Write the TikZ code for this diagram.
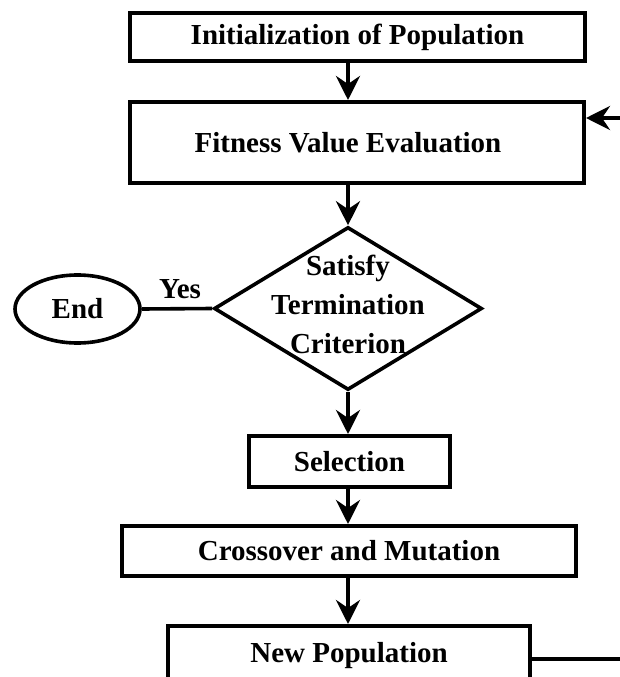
\documentclass[tikz,border=0pt]{standalone}
\usepackage{fontspec}
\setmainfont{Liberation Serif}
\usetikzlibrary{shapes.geometric,arrows.meta,calc}

\begin{document}
\begin{tikzpicture}[x=1pt,y=-1pt,
  every node/.style={font=\fontsize{29pt}{39pt}\selectfont\bfseries},
  procbox/.style={draw, rectangle, line width=4pt, inner sep=0pt, align=center},
  decbox/.style={draw, diamond, line width=3.6pt, inner sep=0pt},
  termbox/.style={draw, ellipse, line width=3.6pt, inner sep=0pt},
  arr/.style={line width=4pt, -{Stealth[length=24pt,width=24pt,inset=8pt]}},
  link/.style={line width=3.6pt}
]
\useasboundingbox (0,0) rectangle (620,677);
\clip (0,0) rectangle (620,677);

% process boxes
\node[procbox, minimum width=455pt, minimum height=48pt] (init) at (357.5,37) {Initialization of Population};
\node[procbox, minimum width=454pt, minimum height=81pt] (fit) at (357,142.5) {Fitness Value Evaluation\hspace*{18pt}};
\node[procbox, minimum width=201pt, minimum height=51pt] (sel) at (349.5,461.5) {Selection};
\node[procbox, minimum width=454pt, minimum height=50pt] (cross) at (349,551) {Crossover and Mutation};
\node[procbox, minimum width=362pt, minimum height=60pt] (np) at (349,656) {\raisebox{4pt}{New Population}};

% decision
\node[decbox, minimum width=268pt, minimum height=163pt] (dec) at (348,308.5) {};
\node[align=center, inner sep=0pt] (dectext) at (348,304) {Satisfy\\Termination\\Criterion};

% terminator
\node[termbox, minimum width=125pt, minimum height=68pt] (endn) at (77.5,309) {End};
\node[inner sep=0pt, anchor=base] (yes) at (180,298) {Yes};

% connectors
\draw[arr] (init.south -| dec) -- (fit.north -| dec);
\draw[arr] (fit.south -| dec) -- (dec.north);
\draw[arr] (dec.south) -- (sel.north -| dec);
\draw[arr] (sel.south -| dec) -- (cross.north -| dec);
\draw[arr] (cross.south -| dec) -- (np.north -| dec);
\draw[link] (endn.east) -- (dec.west);

% loop back from the new population to the evaluation step
\draw[arr] ([yshift=-3pt]np.east) -- ++(120pt,0) |- ([yshift=24.5pt]fit.east);
\end{tikzpicture}
\end{document}
